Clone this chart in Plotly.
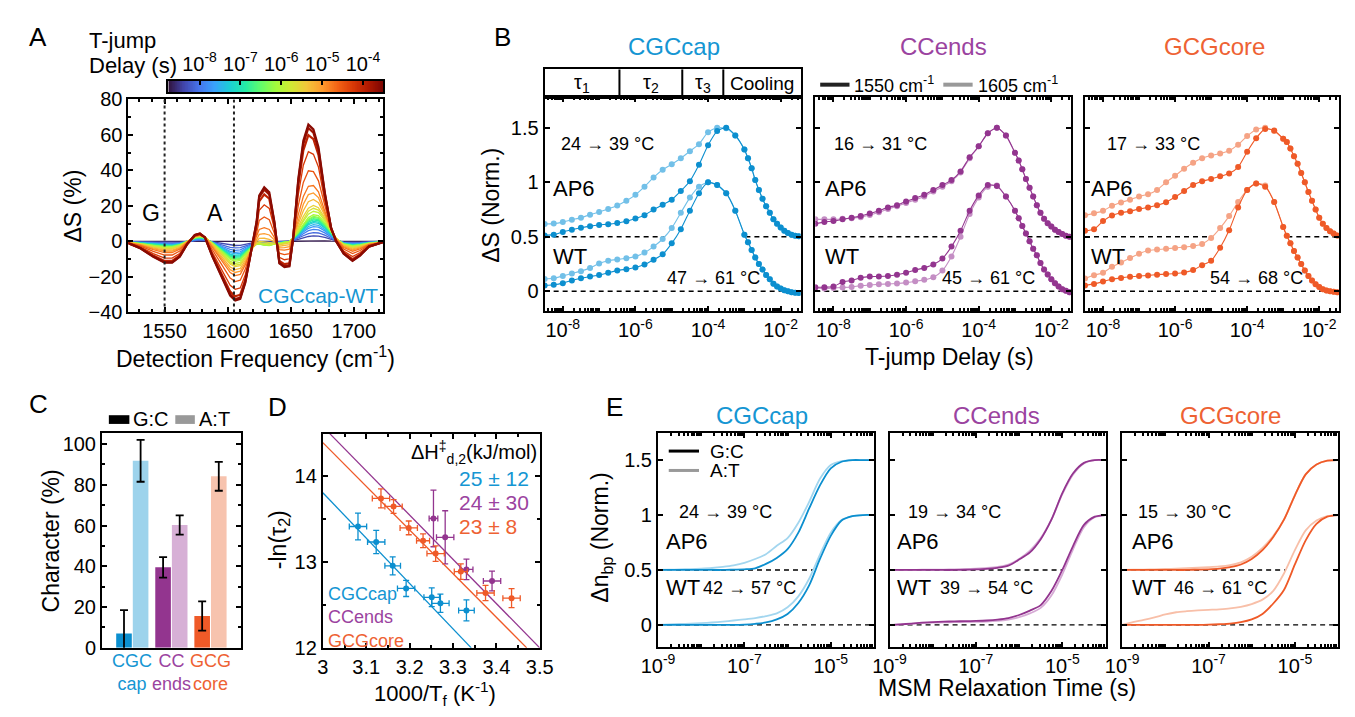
import numpy as np
import plotly.graph_objects as go
from plotly.colors import sample_colorscale

W, H = 1355, 717
FONT = "Liberation Sans, Arial, sans-serif"

# ================= DATA =================
# ---- Panel A: T-jump difference spectra of CGCcap-WT ----
freq_A = [1521, 1531, 1541, 1550, 1556, 1562, 1568, 1574, 1578, 1582,
          1588, 1596, 1602, 1606, 1610, 1614, 1619, 1623, 1625, 1629,
          1633, 1637, 1641, 1645, 1649, 1652, 1656, 1660, 1664, 1668,
          1672, 1677, 1682, 1686, 1692, 1699, 1705, 1712, 1723]
spec_early_A = [-0.5, -1.2, -2.3, -3, -3, -2, 0, 2, 2.5, 2,
                -1, -6, -9.5, -10.5, -10, -7, -3.5, -1.5, -1.5, -2,
                -2.2, -1.5, -1, -0.5, 0, 2, 5, 9, 12.5, 14,
                13.5, 10, 5, 1.5, -1.5, -2.5, -2, -1, -0.3]
spec_late_A = [-1, -4, -8.7, -12, -12, -8.7, -1.5, 3.6, 4.4, 2.2,
               -8.7, -21.5, -30.5, -33.3, -32.4, -23.3, -5, 11.3, 25.8, 30.4,
               27.6, 11.3, -12.4, -14.5, -14, 2.2, 35, 56.7, 65.8, 63,
               53, 27.6, 7.6, 0, -7, -11, -8, -3, -0.5]
delay_exp_A = [-8.7, -8.35, -8.1, -7.9, -7.7, -7.5, -7.3, -7.1, -6.9, -6.7,
               -6.5, -6.3, -6.1, -5.9, -5.7, -5.5, -5.25, -5.0, -4.75, -4.5,
               -4.25, -4.0, -3.75, -3.6]
w_early_A = [0.03, 0.22, 0.35, 0.48, 0.59, 0.67, 0.75, 0.80, 0.86, 0.91,
             0.96, 1.0, 1.07, 1.12, 1.15, 1.15, 1.1, 1.0, 0.85, 0.6,
             0.35, 0.15, 0.05, 0.0]
w_late_A = [0, 0, 0, 0, 0, 0, 0, 0, 0, 0,
            0, 0, 0, 0.02, 0.04, 0.065, 0.13, 0.21, 0.31, 0.49,
            0.7, 0.88, 0.96, 1.0]
probe_freqs = [1550, 1605]
cbar_exp_range = [-8.76, -3.5]
cbar_tick_exp = [-8, -7, -6, -5, -4]

# ---- Panel B: T-jump kinetics (log10 delay, s) ----
tB_exp = [-8.5, -8.25, -8.0, -7.75, -7.5, -7.25, -7.0, -6.75, -6.5, -6.25,
          -6.0, -5.75, -5.5, -5.25, -5.0, -4.75, -4.5, -4.25, -4.0, -3.75,
          -3.5, -3.25, -3.0, -2.9, -2.8, -2.7, -2.6, -2.5, -2.4, -2.3,
          -2.2, -2.1, -2.0, -1.9, -1.8, -1.7, -1.6, -1.5]
cap_WT_1550 = [.053, .06, .075, .10, .12, .135, .15, .17, .19, .203,
               .218, .245, .29, .34, .44, .57, .74, .90, 1.0, .975,
               .90, .74, .52, .45, .38, .31, .25, .20, .15, .11,
               .07, .045, .025, .01, 0, -.008, -.012, -.015]
cap_WT_1605 = [.113, .12, .14, .163, .185, .215, .255, .28, .293, .303,
               .32, .355, .41, .48, .58, .72, .86, .96, 1.0, .975,
               .90, .74, .52, .45, .38, .31, .25, .20, .15, .11,
               .07, .045, .025, .01, 0, -.008, -.012, -.015]
cap_AP6_1550 = [.013, .02, .045, .065, .083, .098, .109, .116, .127, .142,
                .168, .198, .25, .295, .34, .42, .51, .66, .84, .97,
                1.0, .93, .80, .72, .63, .52, .43, .35, .28, .22,
                .16, .12, .085, .055, .035, .02, .01, .005]
cap_AP6_1605 = [.117, .121, .135, .156, .176, .203, .227, .255, .287, .33,
                .385, .46, .545, .615, .665, .72, .785, .85, .96, 1.0,
                .995, .93, .80, .72, .63, .52, .43, .35, .28, .22,
                .16, .12, .085, .055, .035, .02, .01, .005]
ends_WT_1550 = [.038, .038, .045, .085, .10, .125, .135, .136, .14, .152,
                .17, .195, .215, .245, .30, .41, .555, .74, .88, .975,
                .965, .87, .74, .67, .60, .53, .46, .39, .33, .26,
                .20, .155, .11, .075, .045, .02, .005, -.008]
ends_WT_1605 = [.03, .025, .03, .035, .04, .052, .058, .065, .067, .072,
                .08, .092, .105, .13, .19, .32, .50, .71, .86, .96,
                .97, .87, .74, .67, .60, .53, .46, .39, .33, .26,
                .20, .155, .11, .075, .045, .02, .005, -.008]
ends_AP6_1550 = [.12, .135, .145, .16, .175, .19, .213, .24, .27, .29,
                 .325, .355, .385, .43, .475, .52, .60, .73, .83, .95,
                 1.0, .93, .77, .70, .62, .53, .45, .37, .29, .22,
                 .165, .125, .095, .065, .045, .025, .01, 0]
ends_AP6_1605 = [.16, .16, .16, .165, .17, .18, .20, .225, .255, .28,
                 .31, .34, .37, .415, .46, .51, .59, .72, .83, .95,
                 1.0, .93, .77, .70, .62, .53, .45, .37, .29, .22,
                 .165, .125, .095, .065, .045, .025, .01, 0]
core_WT_1550 = [.053, .068, .089, .11, .123, .133, .14, .146, .153, .158,
                .163, .172, .195, .24, .28, .40, .56, .77, .93, .99,
                .96, .82, .59, .51, .44, .37, .31, .25, .19, .14,
                .10, .065, .04, .02, .008, 0, -.005, -.008]
core_WT_1605 = [.118, .148, .171, .225, .265, .305, .345, .375, .383, .39,
                .398, .405, .415, .435, .49, .58, .69, .82, .93, .99,
                .97, .82, .59, .51, .44, .37, .31, .25, .19, .14,
                .10, .065, .04, .02, .008, 0, -.005, -.008]
core_AP6_1550 = [.055, .07, .144, .195, .22, .235, .255, .27, .29, .318,
                 .365, .42, .475, .51, .53, .555, .58, .64, .78, .905,
                 .99, .975, .90, .87, .81, .74, .67, .585, .50, .41,
                 .33, .25, .175, .12, .08, .05, .03, .012]
core_AP6_1605 = [.197, .215, .238, .285, .315, .34, .37, .39, .43, .50,
                 .56, .625, .68, .72, .745, .765, .79, .845, .925, .985,
                 1.0, .97, .90, .87, .81, .74, .67, .585, .50, .41,
                 .33, .25, .175, .12, .08, .05, .03, .012]
tau_bounds_exp = [-6.44, -4.71, -3.58]
tau_labels = ["τ<sub>1</sub>", "τ<sub>2</sub>", "τ<sub>3</sub>", "Cooling"]
B_temps_AP6 = [("24", "39"), ("16", "31"), ("17", "33")]
B_temps_WT = [("47", "61"), ("45", "61"), ("54", "68")]

# ---- Panel C: G:C / A:T character ----
groups = ["CGCcap", "CCends", "GCGcore"]
group_labels = ["CGC<br>cap", "CC<br>ends", "GCG<br>core"]
gc_char = [7.0, 39.5, 15.6]
gc_err = [11.5, 5.0, 7.2]
at_char = [91.8, 60.3, 84.2]
at_err = [10.3, 4.7, 7.1]

# ---- Panel D: Arrhenius plot ----
cap_D_x = [3.081, 3.123, 3.161, 3.192, 3.251, 3.271, 3.331]
cap_D_y = [13.416, 13.235, 12.957, 12.693, 12.59, 12.52, 12.437]
cap_D_yerr = [0.155, 0.136, 0.105, 0.094, 0.11, 0.107, 0.122]
cap_D_xerr = [0.02, 0.02, 0.018, 0.02, 0.018, 0.02, 0.018]
ends_D_x = [3.255, 3.282, 3.331, 3.39]
ends_D_y = [13.51, 13.29, 12.915, 12.78]
ends_D_yerr = [0.33, 0.31, 0.12, 0.115]
ends_D_xerr = [0.01, 0.02, 0.015, 0.02]
core_D_x = [3.134, 3.163, 3.198, 3.231, 3.26, 3.318, 3.375, 3.435]
core_D_y = [13.744, 13.65, 13.40, 13.25, 13.10, 12.89, 12.64, 12.58]
core_D_yerr = [0.11, 0.08, 0.08, 0.08, 0.09, 0.09, 0.09, 0.11]
core_D_xerr = [0.02, 0.02, 0.02, 0.015, 0.02, 0.015, 0.02, 0.02]
cap_fit_x, cap_fit_y = [3.0, 3.342], [13.81, 12.0]
ends_fit_x, ends_fit_y = [3.016, 3.5], [14.5, 12.0]
core_fit_x, core_fit_y = [3.0, 3.47], [14.395, 12.0]
dH_text = ["25 ± 12", "24 ± 30", "23 ± 8"]

# ---- Panel E: MSM relaxation ----
tE_exp = [-9, -8.75, -8.5, -8.25, -8, -7.75, -7.5, -7.25, -7, -6.75,
          -6.5, -6.25, -6, -5.75, -5.5, -5.25, -5, -4.75, -4.5, -4.25, -4]
cap_E_WT_GC = [0, 0, 0, 0, 0, 0, 0, 0, .003, .01, .022, .05, .10, .20, .36, .60, .81, .95, .99, 1.0, 1.0]
cap_E_WT_AT = [0, .004, .008, .012, .016, .022, .03, .04, .05, .062, .08, .105, .16, .26, .42, .64, .84, .955, .99, 1.0, 1.0]
cap_E_AP6_GC = [0, 0, 0, 0, 0, 0, 0, .003, .006, .015, .055, .11, .19, .34, .56, .77, .925, .985, 1.0, 1.0, 1.0]
cap_E_AP6_AT = [0, .002, .005, .008, .012, .018, .028, .042, .065, .10, .144, .22, .29, .43, .62, .83, .955, .99, 1.0, 1.0, 1.0]
ends_E_WT_GC = [0, .005, .012, .02, .026, .03, .032, .034, .036, .04, .048, .062, .09, .13, .18, .31, .50, .72, .91, .985, 1.0]
ends_E_WT_AT = [0, .004, .01, .016, .02, .023, .025, .026, .027, .03, .036, .048, .07, .105, .155, .27, .46, .69, .89, .98, 1.0]
ends_E_AP6_GC = [0, 0, 0, 0, 0, 0, 0, .002, .005, .01, .02, .04, .095, .16, .28, .46, .70, .88, .975, 1.0, 1.0]
ends_E_AP6_AT = [0, 0, .001, .002, .003, .004, .006, .008, .012, .018, .028, .05, .10, .175, .29, .46, .69, .87, .97, 1.0, 1.0]
core_E_WT_GC = [0, 0, 0, 0, 0, 0, 0, 0, .002, .006, .012, .025, .05, .10, .195, .32, .55, .77, .92, .985, 1.0]
core_E_WT_AT = [0, .025, .045, .068, .095, .115, .125, .132, .137, .142, .15, .165, .19, .23, .31, .47, .68, .86, .95, .99, 1.0]
core_E_AP6_GC = [0, 0, 0, 0, 0, 0, 0, .003, .006, .012, .025, .05, .10, .18, .30, .46, .68, .87, .96, .995, 1.0]
core_E_AP6_AT = [0, .002, .004, .006, .009, .012, .016, .02, .025, .032, .045, .07, .12, .20, .31, .46, .68, .87, .96, .995, 1.0]
E_temps_AP6 = [("24", "39"), ("19", "34"), ("15", "30")]
E_temps_WT = [("42", "57"), ("39", "54"), ("46", "61")]

# ================= STYLE =================
COL = {
    "CGCcap": dict(dark="#0C8FCF", pt_light="#72C0E8", ln_light="#A3D6EF", bar_light="#9DD3EC", title="#1596D3"),
    "CCends": dict(dark="#93358F", pt_light="#C48EC4", ln_light="#D6AAD5", bar_light="#D7B0D6", title="#9B43A0"),
    "GCGcore": dict(dark="#EF5A28", pt_light="#F5A385", ln_light="#F8BFA8", bar_light="#F7C3AE", title="#EE6233"),
}
AP6_OFFSET = 0.5

fig = go.Figure()
layout = {}
annotations = []
shapes = []

BASE = dict(showline=True, linewidth=2, linecolor="black", mirror="ticks", ticks="inside",
            ticklen=5, tickwidth=1.5, tickcolor="black", showgrid=False, zeroline=False,
            tickfont=dict(size=20, color="black", family=FONT))


def add_axes(n, xpx, ypx, xkw, ykw):
    xs = "" if n == 1 else str(n)
    xd = dict(BASE)
    xd.update(domain=[xpx[0] / W, xpx[1] / W], anchor="y" + xs)
    xd.update(xkw)
    yd = dict(BASE)
    yd.update(domain=[1 - ypx[1] / H, 1 - ypx[0] / H], anchor="x" + xs)
    yd.update(ykw)
    layout["xaxis" + xs] = xd
    layout["yaxis" + xs] = yd
    return "x" + xs, "y" + xs


def txt(s, x, y, size=20, color="black", xanchor="center", yanchor="middle", angle=0):
    annotations.append(dict(text=s, x=x / W, y=1 - y / H, xref="paper", yref="paper",
                            xanchor=xanchor, yanchor=yanchor, showarrow=False, textangle=angle,
                            font=dict(size=size, color=color, family=FONT)))


def temp_text(pair):
    return "%s <b>→</b> %s °C" % pair


def log_minor(lo, hi):
    out = []
    for n in range(lo, hi + 1):
        for k in range(1, 10):
            out.append(k * 10.0 ** n)
    return out


def sup10(e):
    return "10<sup>%d</sup>" % e


def below_segments(xe, ymax, thr, lo, hi):
    y = np.asarray(ymax, dtype=float)
    xe = np.asarray(xe, dtype=float)
    idx = np.where(y > thr)[0]
    if len(idx) == 0:
        return [(lo, hi)]
    segs = []
    i0 = idx[0]
    x0 = lo if i0 == 0 else float(np.interp(thr, [y[i0 - 1], y[i0]], [xe[i0 - 1], xe[i0]]))
    segs.append((lo, x0))
    i1 = idx[-1]
    if i1 < len(y) - 1:
        x1 = float(np.interp(thr, [y[i1 + 1], y[i1]], [xe[i1 + 1], xe[i1]]))
        segs.append((x1, hi))
    return segs


def dashed(xa, ya, x0, x1, yv, logx=True):
    xx = [10 ** x0, 10 ** x1] if logx else [x0, x1]
    fig.add_trace(go.Scatter(x=xx, y=[yv, yv], mode="lines", xaxis=xa, yaxis=ya,
                             line=dict(color="black", width=1.4, dash="5px,4px"), hoverinfo="skip"))


# ================= PANEL A =================
xa, ya = add_axes(1, (114, 375), (91, 311),
                  dict(range=[1521.3, 1723.5], tickvals=[1550, 1600, 1650, 1700],
                       minor=dict(tickvals=list(range(1530, 1721, 10)), ticks="inside", ticklen=3, tickcolor="black")),
                  dict(range=[-40, 80], tickvals=list(range(-40, 81, 20)),
                       minor=dict(tickvals=list(range(-30, 80, 20)), ticks="inside", ticklen=3, tickcolor="black")))
se = np.array(spec_early_A)
sl = np.array(spec_late_A)
fr = [(d - cbar_exp_range[0]) / (cbar_exp_range[1] - cbar_exp_range[0]) for d in delay_exp_A]
line_cols = sample_colorscale("Turbo", fr)
for i, d in enumerate(delay_exp_A):
    yv = w_early_A[i] * se + w_late_A[i] * sl
    fig.add_trace(go.Scatter(x=freq_A, y=yv, mode="lines", xaxis=xa, yaxis=ya,
                             line=dict(color=line_cols[i], width=2.2 if w_late_A[i] >= 0.85 else 1.3),
                             hoverinfo="skip"))
for f in probe_freqs:
    shapes.append(dict(type="line", xref=xa, yref=ya, x0=f, x1=f, y0=-40, y1=80,
                       line=dict(color="#222222", width=2, dash="3px,3px")))
txt("G", 137, 208, 23)
txt("A", 203, 208, 23)
txt("CGCcap-WT", 371, 293, 21, COL["CGCcap"]["title"], xanchor="right")
txt("ΔS (%)", 57, 201, 23, angle=-90)
txt("Detection Frequency (cm<sup>-1</sup>)", 244, 357, 23)

# colorbar
xa2, ya2 = add_axes(2, (155, 375), (71.7, 84),
                    dict(range=cbar_exp_range, side="top", mirror=True, tickvals=cbar_tick_exp,
                         ticktext=[sup10(e) for e in cbar_tick_exp], ticklen=4),
                    dict(range=[0, 1], showticklabels=False, ticks="", mirror=True))
cb_x = np.linspace(cbar_exp_range[0], cbar_exp_range[1], 300)
fig.add_trace(go.Heatmap(x=cb_x, y=[0.5], z=[cb_x], colorscale="Turbo", showscale=False,
                         zmin=cbar_exp_range[0], zmax=cbar_exp_range[1], xaxis=xa2, yaxis=ya2,
                         hoverinfo="skip"))
txt("T-jump", 72, 30, 22, xanchor="left")
txt("Delay (s)", 72, 56, 22, xanchor="left")

# ================= PANEL B =================
B_series = {
    "CGCcap": (cap_WT_1550, cap_WT_1605, cap_AP6_1550, cap_AP6_1605),
    "CCends": (ends_WT_1550, ends_WT_1605, ends_AP6_1550, ends_AP6_1605),
    "GCGcore": (core_WT_1550, core_WT_1605, core_AP6_1550, core_AP6_1605),
}
B_frames = [(540, 802), (817, 1079), (1093, 1353)]
B_axn = [3, 5, 6]
B_text_x = [(555, 547, 663), (834, 825, 945), (1113, 1097, 1219)]
B_range = [-8.5, -1.45]
tB = 10.0 ** np.array(tB_exp)
for k, g in enumerate(groups):
    xkw = dict(type="log", range=B_range, tickvals=[1e-8, 1e-6, 1e-4, 1e-2],
               ticktext=[sup10(e) for e in (-8, -6, -4, -2)],
               minor=dict(tickvals=log_minor(-9, -2), ticks="inside", ticklen=3, tickcolor="black"))
    ykw = dict(range=[-0.185, 1.78], tickvals=[0, 0.5, 1, 1.5], ticktext=["0", "0.5", "1", "1.5"],
               showticklabels=(k == 0))
    xa_, ya_ = add_axes(B_axn[k], B_frames[k], (89, 310), xkw, ykw)
    wt_d, wt_l, ap_d, ap_l = B_series[g]
    c = COL[g]
    dashed(xa_, ya_, B_range[0], B_range[1], 0.0)
    for s0, s1 in below_segments(tB_exp, np.maximum(wt_d, wt_l), 0.5, B_range[0], B_range[1]):
        dashed(xa_, ya_, s0, s1, AP6_OFFSET)
    for yv, col, off in ((wt_l, c["pt_light"], 0), (wt_d, c["dark"], 0),
                         (ap_l, c["pt_light"], AP6_OFFSET), (ap_d, c["dark"], AP6_OFFSET)):
        fig.add_trace(go.Scatter(x=tB, y=np.array(yv) + off, mode="lines+markers", xaxis=xa_, yaxis=ya_,
                                 line=dict(color=col, width=1.1, shape="spline", smoothing=0.6),
                                 marker=dict(size=6, color=col), hoverinfo="skip"))
    txt(g, [672, 948, 1226][k], 37, 24, c["title"])
    tx_temp, tx_lab, tx_wt = B_text_x[k]
    txt(temp_text(B_temps_AP6[k]), tx_temp, 137, 18, xanchor="left")
    txt("AP6", tx_lab, 183, 22, xanchor="left")
    txt("WT", tx_lab, 253, 22, xanchor="left")
    txt(temp_text(B_temps_WT[k]), tx_wt, 275, 18, xanchor="left")

# header box for B1 (kinetic phases)
xa4, ya4 = add_axes(4, (540, 802), (60, 89),
                    dict(type="log", range=B_range, showticklabels=False, ticks="", mirror=True),
                    dict(range=[0, 1], showticklabels=False, ticks="", mirror=True))
bounds = [B_range[0]] + tau_bounds_exp + [B_range[1]]
for b in tau_bounds_exp:
    shapes.append(dict(type="line", xref=xa4, yref=ya4, x0=10 ** b, x1=10 ** b, y0=0, y1=1,
                       line=dict(color="black", width=2)))
for i, lab in enumerate(tau_labels):
    mid_exp = (bounds[i] + bounds[i + 1]) / 2  # annotations on log axes use log10 units
    annotations.append(dict(text=lab, x=mid_exp, y=0.5, xref=xa4, yref=ya4, showarrow=False,
                            xanchor="center", yanchor="middle",
                            font=dict(size=20 if i < 3 else 19, color="black", family=FONT)))

# legend for B
shapes.append(dict(type="line", xref="paper", yref="paper", x0=822 / W, x1=852 / W, y0=1 - 76 / H, y1=1 - 76 / H,
                   line=dict(color="#222222", width=4)))
shapes.append(dict(type="line", xref="paper", yref="paper", x0=948 / W, x1=978 / W, y0=1 - 76 / H, y1=1 - 76 / H,
                   line=dict(color="#999999", width=4)))
txt("1550 cm<sup>-1</sup>", 855, 76, 18, xanchor="left")
txt("1605 cm<sup>-1</sup>", 981, 76, 18, xanchor="left")
txt("ΔS (Norm.)", 485, 200, 23, angle=-90)
txt("T-jump Delay (s)", 954, 357, 23)

# ================= PANEL C =================
xa7, ya7 = add_axes(7, (87, 229), (435, 657),
                    dict(range=[-0.775, 2.775], showticklabels=False, ticks="", mirror=True),
                    dict(range=[0, 105.6], tickvals=list(range(0, 101, 20)),
                         minor=dict(tickvals=[10, 30, 50, 70, 90], ticks="inside", ticklen=3, tickcolor="black")))
xc = list(range(len(groups)))
fig.add_trace(go.Bar(x=xc, y=gc_char, xaxis=xa7, yaxis=ya7,
                     marker=dict(color=[COL[g]["dark"] for g in groups], line=dict(width=0)),
                     error_y=dict(type="data", array=gc_err, color="black", thickness=1.8, width=4),
                     hoverinfo="skip"))
fig.add_trace(go.Bar(x=xc, y=at_char, xaxis=xa7, yaxis=ya7,
                     marker=dict(color=[COL[g]["bar_light"] for g in groups], line=dict(width=0)),
                     error_y=dict(type="data", array=at_err, color="black", thickness=1.8, width=4),
                     hoverinfo="skip"))
for i, g in enumerate(groups):
    annotations.append(dict(text=group_labels[i], x=i, y=1 - 682 / H, xref=xa7, yref="paper",
                            xanchor="center", yanchor="middle", showarrow=False,
                            font=dict(size=18, color=COL[g]["title"], family=FONT)))
shapes.append(dict(type="rect", xref="paper", yref="paper", x0=94 / W, x1=115 / W, y0=1 - 426 / H, y1=1 - 417 / H,
                   fillcolor="black", line=dict(width=0)))
shapes.append(dict(type="rect", xref="paper", yref="paper", x0=162 / W, x1=182 / W, y0=1 - 426 / H, y1=1 - 417 / H,
                   fillcolor="#999999", line=dict(width=0)))
txt("G:C", 117, 421, 20, xanchor="left")
txt("A:T", 184, 421, 20, xanchor="left")
txt("Character (%)", 35, 547, 23, angle=-90)

# ================= PANEL D =================
xa8, ya8 = add_axes(8, (313, 535), (436, 657),
                    dict(range=[3.0, 3.5], tickvals=[3.0, 3.1, 3.2, 3.3, 3.4, 3.5],
                         ticktext=["3", "3.1", "3.2", "3.3", "3.4", "3.5"],
                         minor=dict(tickvals=[3.05, 3.15, 3.25, 3.35, 3.45], ticks="inside", ticklen=3, tickcolor="black")),
                    dict(range=[12.0, 14.5], tickvals=[12, 13, 14],
                         minor=dict(tickvals=[12.5, 13.5], ticks="inside", ticklen=3, tickcolor="black")))
D_sets = [("CGCcap", cap_D_x, cap_D_y, cap_D_xerr, cap_D_yerr, cap_fit_x, cap_fit_y),
          ("CCends", ends_D_x, ends_D_y, ends_D_xerr, ends_D_yerr, ends_fit_x, ends_fit_y),
          ("GCGcore", core_D_x, core_D_y, core_D_xerr, core_D_yerr, core_fit_x, core_fit_y)]
for g, dx, dy, ex, ey, fx, fy in D_sets:
    c = COL[g]["dark"]
    fig.add_trace(go.Scatter(x=fx, y=fy, mode="lines", xaxis=xa8, yaxis=ya8,
                             line=dict(color=c, width=1.3), hoverinfo="skip"))
    fig.add_trace(go.Scatter(x=dx, y=dy, mode="markers", xaxis=xa8, yaxis=ya8,
                             marker=dict(size=6, color=c),
                             error_x=dict(type="data", array=ex, color=c, thickness=1.3, width=3),
                             error_y=dict(type="data", array=ey, color=c, thickness=1.3, width=3),
                             hoverinfo="skip"))
txt("ΔH<sup>‡</sup><sub>d,2</sub>(kJ/mol)", 534, 455, 20, xanchor="right")
for i, g in enumerate(groups):
    txt(dH_text[i], 450, [482, 507, 532][i], 21, COL[g]["title"], xanchor="left")
legend_D = "<br>".join('<span style="color:%s">%s</span>' % (COL[g]["title"], g) for g in groups)
annotations.append(dict(text=legend_D, x=316 / W, y=1 - 626 / H, xref="paper", yref="paper",
                        xanchor="left", yanchor="middle", align="left", showarrow=False,
                        font=dict(size=18, family=FONT)))
txt("-ln(τ<sub>2</sub>)", 268, 545, 23, angle=-90)
txt("1000/T<sub>f</sub> (K<sup>-1</sup>)", 428, 704, 22)

# ================= PANEL E =================
E_series = {
    "CGCcap": (cap_E_WT_GC, cap_E_WT_AT, cap_E_AP6_GC, cap_E_AP6_AT),
    "CCends": (ends_E_WT_GC, ends_E_WT_AT, ends_E_AP6_GC, ends_E_AP6_AT),
    "GCGcore": (core_E_WT_GC, core_E_WT_AT, core_E_AP6_GC, core_E_AP6_AT),
}
E_frames = [(656, 877), (893, 1114), (1131, 1352)]
E_axn = [9, 10, 11]
E_text_x = [(675, 662, 700), (910, 899, 943), (1145, 1139, 1182)]
E_range = [-9, -4]
tE = 10.0 ** np.array(tE_exp, dtype=float)
for k, g in enumerate(groups):
    xkw = dict(type="log", range=E_range, tickvals=[1e-9, 1e-7, 1e-5],
               ticktext=[sup10(e) for e in (-9, -7, -5)],
               minor=dict(tickvals=log_minor(-9, -4), ticks="inside", ticklen=3, tickcolor="black"))
    ykw = dict(range=[-0.2, 1.75], tickvals=[0, 0.5, 1, 1.5], ticktext=["0", "0.5", "1", "1.5"],
               showticklabels=(k == 0))
    xa_, ya_ = add_axes(E_axn[k], E_frames[k], (435, 656), xkw, ykw)
    wgc, wat, agc, aat = E_series[g]
    c = COL[g]
    dashed(xa_, ya_, E_range[0], E_range[1], 0.0)
    for s0, s1 in below_segments(tE_exp, np.maximum(wgc, wat), 0.5, E_range[0], E_range[1]):
        dashed(xa_, ya_, s0, s1, AP6_OFFSET)
    for yv, col, off in ((wat, c["ln_light"], 0), (wgc, c["dark"], 0),
                         (aat, c["ln_light"], AP6_OFFSET), (agc, c["dark"], AP6_OFFSET)):
        fig.add_trace(go.Scatter(x=tE, y=np.array(yv) + off, mode="lines", xaxis=xa_, yaxis=ya_,
                                 line=dict(color=col, width=1.8, shape="spline", smoothing=0.8),
                                 hoverinfo="skip"))
    txt(g, [762, 1002, 1242][k], 417, 24, c["title"])
    tx_temp, tx_lab, tx_wt = E_text_x[k]
    txt(temp_text(E_temps_AP6[k]), tx_temp, 517, 18, xanchor="left")
    txt("AP6", tx_lab, 547, 22, xanchor="left")
    txt("WT", tx_lab, 595, 22, xanchor="left")
    txt(temp_text(E_temps_WT[k]), tx_wt, 595, 18, xanchor="left")

shapes.append(dict(type="line", xref="paper", yref="paper", x0=667 / W, x1=698 / W, y0=1 - 454 / H, y1=1 - 454 / H,
                   line=dict(color="black", width=3)))
shapes.append(dict(type="line", xref="paper", yref="paper", x0=667 / W, x1=698 / W, y0=1 - 474 / H, y1=1 - 474 / H,
                   line=dict(color="#999999", width=3)))
txt("G:C", 707, 454, 19, xanchor="left")
txt("A:T", 707, 474, 19, xanchor="left")
txt("Δn<sub>bp</sub> (Norm.)", 598, 543, 23, angle=-90)
txt("MSM Relaxation Time (s)", 1013, 698, 23)

# panel letters
for lab, x, y in (("A", 22, 27), ("B", 497, 27), ("C", 22, 405), ("D", 267, 409), ("E", 612, 409)):
    txt(lab, x, y, 26)

fig.update_layout(**layout)
fig.update_layout(width=W, height=H, margin=dict(l=0, r=0, t=0, b=0), autosize=False,
                  paper_bgcolor="white", plot_bgcolor="white", showlegend=False,
                  barmode="group", bargap=0.15, bargroupgap=0.06,
                  font=dict(family=FONT, color="black"),
                  annotations=annotations, shapes=shapes)
fig.write_html("out.html")
